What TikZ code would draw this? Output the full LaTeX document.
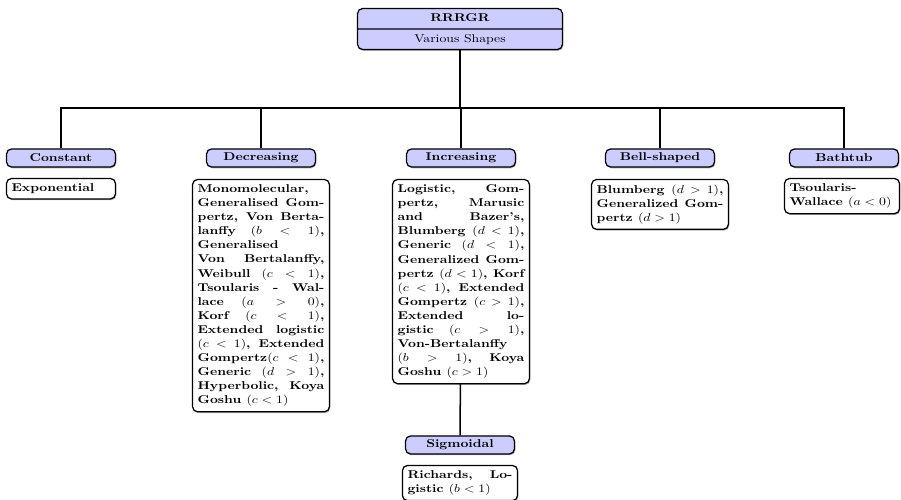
\documentclass[tikz,border=0pt]{standalone}
\usepackage{amsmath}
\usepackage{tikz}
\usetikzlibrary{shapes.multipart,shadows}

\begin{document}
\begin{tikzpicture}[x=0.028cm,y=-0.03394cm,yscale=0.825,
  box/.style={draw,line width=1pt,rounded corners=4pt,transform shape,drop shadow={shadow xshift=.7pt,shadow yshift=-1pt,opacity=.6}},
  head/.style={box,fill=blue!20,font=\fontsize{10.95}{13.6}\selectfont\bfseries,minimum width=3.05cm,minimum height=17.4pt},
  leaf/.style={box,fill=white,font=\fontsize{10.95}{13.6}\selectfont\bfseries,align=justify,anchor=north,inner xsep=4pt,inner ysep=5pt,text width=#1},
  leaf/.default=3.55cm,
  link/.style={line width=1.2pt}]
 \useasboundingbox (0,0) rectangle (901,500);

 \node[box,rectangle split,rectangle split parts=2,fill=blue!20,font=\fontsize{10.95}{13.6}\selectfont,inner ysep=2.6pt,text width=5.5cm,align=center,anchor=north] (root) at (460,8) {\strut\textbf{RRRGR}\nodepart{second}\strut Various Shapes};
 \coordinate (bus) at (460,108);

 \node[head] (cst) at (61,158) {Constant};
 \node[head] (dec) at (261,158) {Decreasing};
 \node[head] (inc) at (461,158) {Increasing};
 \node[head] (bell) at (660,158) {Bell-shaped};
 \node[head] (bath) at (844,158) {Bathtub};

 \node[leaf=2.77cm,align=left] (cstL) at (61,178) {Exponential};
 \node[leaf] (decL) at (261,179) {Monomolecular,\linebreak Generalised Gom-\linebreak pertz, Von Berta-\linebreak lanffy $(b<1)$,\linebreak Generalised\linebreak Von Bertalanffy,\linebreak Weibull $(c<1)$,\linebreak Tsoularis - Wal-\linebreak lace $(a>0)$,\linebreak Korf $(c<1)$,\linebreak Extended logistic\linebreak $(c<1)$, Extended\linebreak Gompertz$(c<1)$,\linebreak Generic $(d>1)$,\linebreak Hyperbolic, Koya\linebreak Goshu $(c<1)$};
 \node[leaf] (incL) at (461,179) {Logistic, Gom-\linebreak pertz, Marusic\linebreak and Bazer's,\linebreak Blumberg $(d<1)$,\linebreak Generic $(d<1)$,\linebreak Generalized Gom-\linebreak pertz $(d<1)$, Korf\linebreak $(c<1)$, Extended\linebreak Gompertz $(c>1)$,\linebreak Extended lo-\linebreak gistic $(c>1)$,\linebreak Von-Bertalanffy\linebreak $(b>1)$, Koya\linebreak Goshu $(c>1)$};
 \node[leaf] (bellL) at (660,179) {Blumberg $(d>1)$,\linebreak Generalized Gom-\linebreak pertz $(d>1)$};
 \node[leaf=2.94cm] (bathL) at (842,178) {Tsoularis-\linebreak Wallace $(a<0)$};

 \node[head] (sig) at (460,445) {Sigmoidal};
 \node[leaf=2.94cm] (sigL) at (460,465) {Richards, Lo-\linebreak gistic $(b<1)$};

 \draw[link] (root) -- (bus);
 \foreach \n in {cst,dec,inc,bell,bath}
  \draw[link] (bus) -| (\n);
 \draw[link] (incL) -- (sig);
\end{tikzpicture}
\end{document}
